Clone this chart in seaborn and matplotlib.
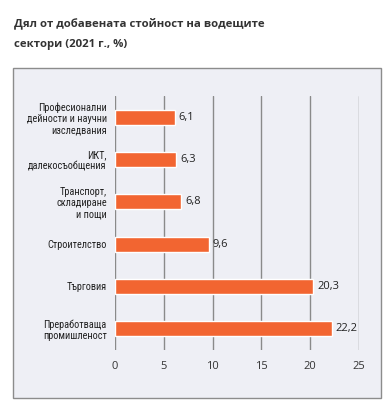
import matplotlib
matplotlib.use("Agg")
import matplotlib.pyplot as plt
import matplotlib.patches as mpatches
import pandas as pd
import seaborn as sns

# data
sectors = ["Професионални\nдейности и научни\nизследвания",
           "ИКТ,\nдалекосъобщения",
           "Транспорт,\nскладиране\nи пощи",
           "Строителство",
           "Търговия",
           "Преработваща\nпромишленост"]
shares = [6.1, 6.3, 6.8, 9.6, 20.3, 22.2]
value_labels = ["6,1", "6,3", "6,8", "9,6", "20,3", "22,2"]
x_ticks = [0, 5, 10, 15, 20, 25]

df = pd.DataFrame({"sector": sectors, "share": shares})

sns.set_style("white")
plt.rcParams["font.family"] = ["Open Sans", "DejaVu Sans"]

fig = plt.figure(figsize=(3.92, 4.13), dpi=100)

# light panel behind the chart
panel = mpatches.Rectangle((13 / 392, 15 / 413), 368 / 392, 330 / 413,
                           transform=fig.transFigure, facecolor="#eeeff5",
                           edgecolor="#8c8c8c", linewidth=1.0, zorder=-5)
fig.patches.append(panel)

fig.text(14 / 392, 1 - 24 / 413, "Дял от добавената стойност на водещите",
         ha="left", va="center", fontsize=8.2, fontweight="bold", color="#333333")
fig.text(14 / 392, 1 - 45 / 413, "сектори (2021 г., %)",
         ha="left", va="center", fontsize=8.2, fontweight="bold", color="#333333")

ax = fig.add_axes([115 / 392, 63 / 413, 244 / 392, 254 / 413])
ax.set_zorder(2)
ax.set_facecolor("none")
sns.barplot(data=df, x="share", y="sector", orient="h", color="#f26531",
            width=0.36, saturation=1, ax=ax, zorder=3)

ax.set_xlim(0, 25)
ax.set_xticks(x_ticks)
ax.set_xticklabels([str(t) for t in x_ticks], fontsize=8, color="#333333")
ax.xaxis.grid(True, color="#8a8a8a", linewidth=1.0)
ax.set_axisbelow(True)
for s in ax.spines.values():
    s.set_visible(False)
ax.tick_params(axis="x", length=0, pad=8)
ax.tick_params(axis="y", length=0, pad=6)
ax.set_xlabel("")
ax.set_ylabel("")
for lab in ax.get_yticklabels():
    lab.set_fontfamily(["Roboto Condensed", "DejaVu Sans"])
    lab.set_fontsize(7.4)
    lab.set_color("#222222")
    lab.set_linespacing(1.15)

for i, (v, t) in enumerate(zip(shares, value_labels)):
    ax.text(v + 0.4, i, t, va="center", ha="left", fontsize=8, color="#222222")

fig.savefig("out.png", dpi=100)
